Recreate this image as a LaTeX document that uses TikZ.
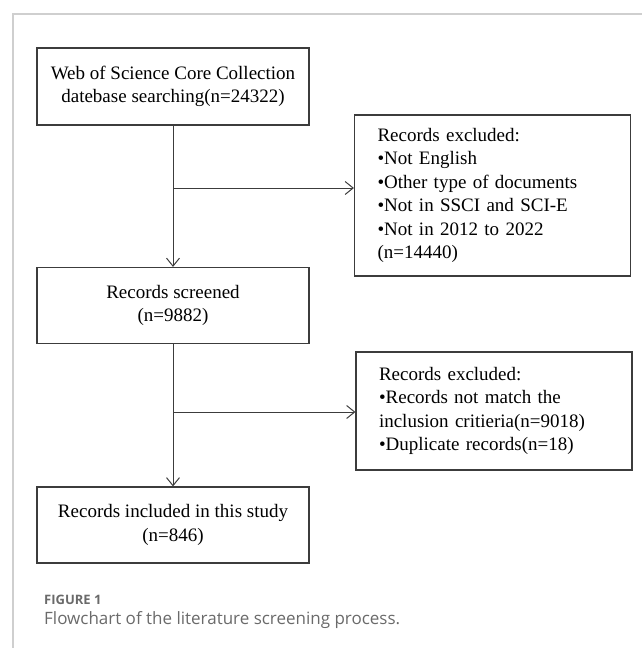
\documentclass[tikz,border=0pt]{standalone}
\usepackage{fontspec}
\setmainfont{Liberation Serif}
\newfontfamily\capfont{Open Sans}
\usepackage{xcolor}
\usepackage{tikz}
\usetikzlibrary{arrows.meta}
\usetikzlibrary{calc}
\definecolor{framegray}{HTML}{CFCFCF}
\definecolor{linegray}{HTML}{3C3C3C}
\definecolor{capgray}{HTML}{6A6A6A}
\tikzset{
  flowbox/.style = {draw=linegray, line width=1.2pt, rectangle, minimum width=272pt,
    align=center, inner sep=0pt, font=\fontsize{19}{23.4}\selectfont},
  exbox/.style = {draw=linegray, line width=1.2pt, rectangle, text width=230pt,
    inner xsep=23pt, inner ysep=0pt, align=left, font=\fontsize{19}{23.4}\selectfont},
  arr/.style = {draw=linegray, line width=1pt, -{Straight Barb[length=8pt,width=13pt,line width=1pt]}}
}

\begin{document}
\begin{tikzpicture}[x=1pt,y=-1pt]
  \useasboundingbox (0,0) rectangle (642,648);
  \draw[framegray, line width=1.3pt] (13,648) -- (13,14) -- (642,14);

  \node[flowbox, minimum height=77pt] (search) at (173,86.5)
    {Web of Science Core Collection\\datebase searching(n=24322)};
  \node[flowbox, minimum height=76pt] (screen) at (173,305.5)
    {Records screened\\(n=9882)};
  \node[flowbox, minimum height=76pt] (incl) at (173,525)
    {Records included in this study\\(n=846)};

  \node[exbox, minimum height=161pt] (excl1) at (492.5,195.5)
    {Records excluded:\\\textbullet Not English\\\textbullet Other type of documents\\
     \textbullet Not in SSCI and SCI-E\\\textbullet Not in 2012 to 2022\\(n=14440)};
  \node[exbox, minimum height=118pt] (excl2) at (494,411)
    {Records excluded:\\\textbullet Records not match the\\inclusion critieria(n=9018)\\
     \textbullet Duplicate records(n=18)};

  \coordinate (br1) at (173,188);
  \coordinate (br2) at (173,412);
  \draw[arr] (search) -- (screen);
  \draw[arr] (screen) -- (incl);
  \draw[arr] (br1) -- (br1 -| excl1.west);
  \draw[arr] (br2) -- (br2 -| excl2.west);

  \node[anchor=west, inner sep=0pt, text=capgray, font=\capfont\bfseries\fontsize{13}{15}\selectfont]
    (fig) at (44,600) {FIGURE 1};
  \node[anchor=west, inner sep=0pt, text=capgray, font=\capfont\fontsize{17}{20}\selectfont]
    (cap) at (44,620) {Flowchart of the literature screening process.};
\end{tikzpicture}
\end{document}
